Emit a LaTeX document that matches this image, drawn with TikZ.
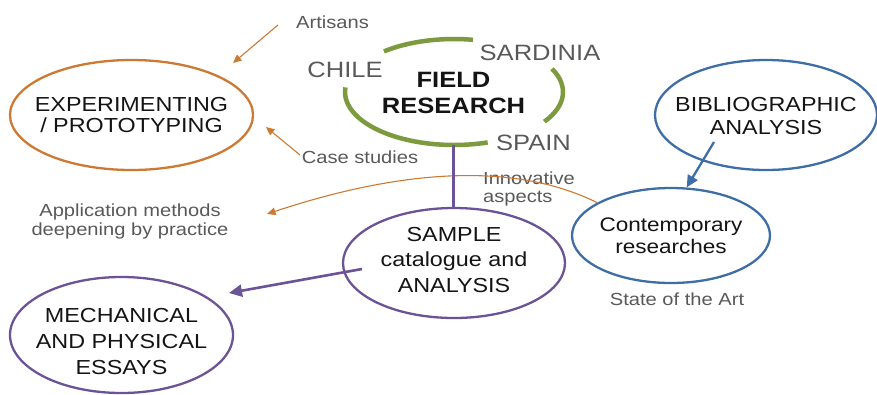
\documentclass[tikz,border=0pt]{standalone}
\usepackage{fontspec}
\setmainfont[FakeStretch=1.15]{Liberation Sans}
\usetikzlibrary{shapes.geometric,arrows.meta}
\definecolor{oc}{HTML}{CC7A33}
\definecolor{gc}{HTML}{7C9A3E}
\definecolor{pc}{HTML}{6C5296}
\definecolor{bc}{HTML}{3F6DA5}
\definecolor{tc}{HTML}{595959}
\definecolor{kc}{HTML}{141414}
\begin{document}
\begin{tikzpicture}[x=1pt,y=1pt,
  ell/.style={ellipse,draw,line width=2.3pt,inner sep=0pt},
  bigtxt/.style={font=\fontsize{20.3}{#1}\selectfont,align=center,text=kc,inner sep=0pt},
  graytxt/.style={font=\fontsize{17.5}{#1}\selectfont,text=tc,inner sep=0pt},
  country/.style={font=\fontsize{22.2}{24}\selectfont,text=tc,inner sep=0pt,anchor=base},
  oarrow/.style={draw=oc,line width=1.1pt,-{Triangle[length=8.5pt,width=7.5pt]}},
  parrow/.style={draw=pc,line width=2.6pt,-{Triangle[length=13pt,width=12pt]}},
  barrow/.style={draw=bc,line width=2.3pt,-{Triangle[length=12pt,width=11pt]}},
  greenarc/.style={draw=gc,line width=4.5pt}
]
\useasboundingbox (0,0) rectangle (877,-394);

% ellipses
\node[ell,draw=oc,minimum width=243pt,minimum height=110pt,
  label={[bigtxt=21]center:{EXPERIMENTING\\/ PROTOTYPING}}] (exp) at (131.5,-115) {};
\node[ell,draw=bc,minimum width=222pt,minimum height=110pt,
  label={[bigtxt=23,yshift=-1pt]center:{BIBLIOGRAPHIC\\ANALYSIS}}] (bib) at (766,-115) {};
\node[ell,draw=pc,minimum width=222pt,minimum height=110pt,
  label={[bigtxt=25.5,yshift=3pt]center:{SAMPLE\\catalogue and\\ANALYSIS}}] (sample) at (454,-263) {};
\node[ell,draw=pc,minimum width=223pt,minimum height=116pt,
  label={[bigtxt=26,yshift=-6.5pt]center:{MECHANICAL\\AND PHYSICAL\\ESSAYS}}] (mech) at (121.5,-335) {};
\node[ell,draw=bc,minimum width=198pt,minimum height=95pt,
  label={[font=\fontsize{19.6}{21.5}\selectfont,align=center,text=kc,inner sep=0pt]center:{Contemporary\\researches}}] (cont) at (671,-235.5) {};

% field research
\coordinate (frc) at (454,-92);
\node[ellipse,minimum width=218pt,minimum height=104pt,inner sep=0pt,
  font=\fontsize{22.2}{26}\selectfont\bfseries,align=center,text=kc] (fr) at (453.5,-93) {FIELD\\RESEARCH};
\draw[greenarc] (frc) ++(130:109pt and 53pt) arc[start angle=130,end angle=80,x radius=109pt,y radius=53pt];
\draw[greenarc] (frc) ++(26:109pt and 53pt) arc[start angle=26,end angle=-34,x radius=109pt,y radius=53pt];
\draw[greenarc] (frc) ++(175:109pt and 53pt) arc[start angle=175,end angle=288,x radius=109pt,y radius=53pt];

\node[country] (chile) at (345,-77) {CHILE};
\node[country] (sard) at (540,-60) {SARDINIA};
\node[country] (spain) at (533.5,-150) {SPAIN};

% gray labels
\node[graytxt=19,anchor=base] (art) at (332.5,-28) {Artisans};
\node[graytxt=19,anchor=base] (cs) at (360,-163) {Case studies};
\node[graytxt=19,anchor=base] (sota) at (677,-305) {State of the Art};
\node[graytxt=19,align=center] (app) at (130,-221) {Application methods\\deepening by practice};
\node[graytxt=18,align=left,anchor=west] (innov) at (483,-188.6) {Innovative\\aspects};

% connectors
\coordinate (a1s) at (278,-25);
\coordinate (a1e) at (233,-63);
\draw[oarrow] (a1s) -- (a1e);
\coordinate (a2s) at (300,-155);
\coordinate (a2e) at (266,-127);
\draw[oarrow] (a2s) -- (a2e);
\coordinate (a3e) at (267,-214);
\draw[oarrow] (cont.156) .. controls (517.7,-163.3) and (407.7,-167.3) .. (a3e);

\draw[draw=pc,line width=2.4pt] (fr.south) -- (fr.south |- sample.north);

\coordinate (p1s) at (362,-269);
\coordinate (p1e) at (229,-293);
\draw[parrow] (p1s) -- (p1e);

\coordinate (b1s) at (714,-142);
\draw[barrow] (b1s) -- (cont.72);
\end{tikzpicture}
\end{document}
